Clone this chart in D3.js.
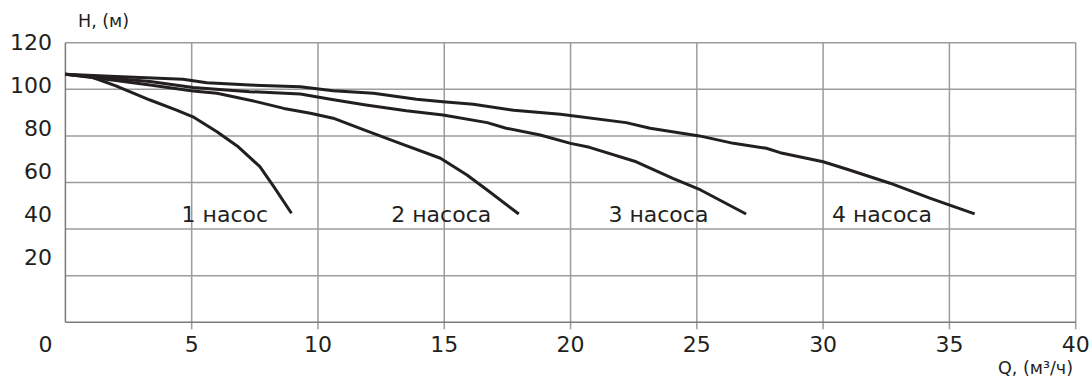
<!DOCTYPE html>
<html>
<head>
<meta charset="utf-8">
<script src="https://cdn.jsdelivr.net/npm/d3@7"></script>
<style>
  html, body { margin: 0; padding: 0; background: #fff; }
  svg { display: block; }
  text { font-family: "DejaVu Sans", sans-serif; fill: #231f20; }
</style>
</head>
<body>
<svg id="chart" width="1090" height="380"></svg>
<script>
// ---- data ----
const xTicks = [0, 5, 10, 15, 20, 25, 30, 35, 40];
const yTicks = [20, 40, 60, 80, 100, 120];
const yTitle = "H, (м)";
const xTitle = "Q, (м³/ч)";

const q1 = [0, 1, 2, 3.35, 4.4, 5.05, 6, 6.8, 7.7, 8.25, 8.95];
const h1 = [106.5, 105.4, 101.5, 95.4, 91.1, 88.2, 81.8, 75.7, 66.8, 58.2, 46.8];

const q2 = [0, 2, 3.35, 5.05, 6, 7.55, 8.65, 9.7, 10.6, 11.9, 13.25, 14.85, 15.9, 16.7, 17.95];
const h2 = [106.5, 103.8, 101.8, 99.3, 98.3, 94.7, 91.8, 89.7, 87.6, 82.3, 76.8, 70.4, 63.2, 56.8, 46.5];

const q3 = [0, 3.35, 5.05, 7.3, 9.3, 10.5, 11.9, 13.5, 14.95, 16.7, 17.45, 18.8, 20, 20.75, 22.6, 24.05, 25.15, 26.95];
const h3 = [106.5, 103.3, 100.8, 99.0, 98.0, 95.7, 93.3, 90.8, 89.0, 85.7, 83.3, 80.4, 76.8, 75.1, 68.9, 61.8, 56.8, 46.5];

const q4 = [0, 2, 4.65, 5.6, 7.3, 9.3, 10.6, 12.2, 13.9, 14.95, 16.15, 17.75, 19.6, 22.2, 23.15, 25.1, 26.45, 27.75, 28.3, 30, 30.95, 32.65, 34.25, 36];
const h4 = [106.5, 105.5, 104.3, 102.8, 101.8, 101.1, 99.4, 98.3, 95.7, 94.7, 93.6, 91.0, 89.3, 85.7, 83.3, 80.0, 76.8, 74.7, 72.8, 68.9, 65.7, 59.7, 53.2, 46.5];

const curveLabels = ["1 насос", "2 насоса", "3 насоса", "4 насоса"];
const labelQ = [4.6, 12.9, 21.5, 30.35];
const labelH = 43;

// ---- layout ----
const svg = d3.select("#chart");
const x = d3.scaleLinear().domain([0, 40]).range([65.4, 1075.7]);
const y = d3.scaleLinear().domain([0, 120]).range([322.3, 42.7]);
// tick labels in the original are not exactly on the grid lines
const yLab = d3.scaleLinear().domain([20, 120]).range([257, 42]);

const gridColor = "#9c9c9c";
const axisColor = "#7a7a7a";

// horizontal grid
svg.append("g").selectAll("line").data(yTicks).join("line")
  .attr("x1", x(0)).attr("x2", x(40))
  .attr("y1", d => y(d)).attr("y2", d => y(d))
  .attr("stroke", gridColor).attr("stroke-width", 1.5);

// vertical grid (extending below axis as ticks)
svg.append("g").selectAll("line").data(xTicks.filter(d => d > 0)).join("line")
  .attr("x1", d => x(d)).attr("x2", d => x(d))
  .attr("y1", y(120)).attr("y2", y(0) + 7)
  .attr("stroke", gridColor).attr("stroke-width", 1.5);

// axes
svg.append("line").attr("x1", x(0)).attr("x2", x(0)).attr("y1", y(120)).attr("y2", y(0))
  .attr("stroke", axisColor).attr("stroke-width", 1.5);
svg.append("line").attr("x1", x(0)).attr("x2", x(40)).attr("y1", y(0)).attr("y2", y(0))
  .attr("stroke", axisColor).attr("stroke-width", 1.5);

// y tick labels
svg.append("g").selectAll("text").data(yTicks).join("text")
  .attr("x", 52).attr("y", d => yLab(d)).attr("dy", "0.36em")
  .attr("text-anchor", "end").attr("font-size", 22)
  .text(d => d);

// x tick labels
svg.append("g").selectAll("text").data(xTicks).join("text")
  .attr("x", d => d === 0 ? 45.5 : x(d)).attr("y", 352)
  .attr("text-anchor", "middle").attr("font-size", 22)
  .text(d => d);

// titles
svg.append("text").attr("x", 78).attr("y", 27).attr("font-size", 17.5).text(yTitle);
svg.append("text").attr("x", 1073).attr("y", 374).attr("text-anchor", "end").attr("font-size", 17.5).text(xTitle);

// curves
const series = [[q1, h1], [q2, h2], [q3, h3], [q4, h4]];
const line = d3.line().x(d => x(d[0])).y(d => y(d[1]));
svg.append("g").selectAll("path").data(series.map(([q, h]) => q.map((v, i) => [v, h[i]]))).join("path")
  .attr("d", line)
  .attr("fill", "none").attr("stroke", "#231f20").attr("stroke-width", 3)
  .attr("stroke-linejoin", "round");

// curve labels
svg.append("g").selectAll("text").data(curveLabels).join("text")
  .attr("x", (d, i) => x(labelQ[i])).attr("y", y(labelH))
  .attr("font-size", 22)
  .text(d => d);
</script>
</body>
</html>
